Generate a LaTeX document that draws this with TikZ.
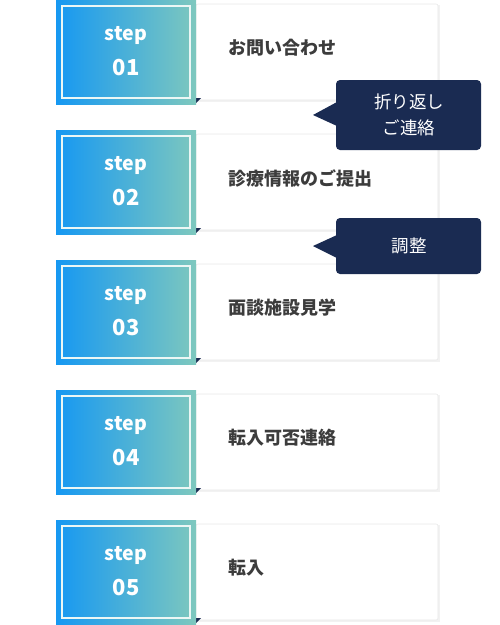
\documentclass[tikz,border=0pt]{standalone}
\usepackage{fontspec}
\setmainfont{Noto Sans CJK JP}
\usetikzlibrary{shadings}
\definecolor{gleft}{RGB}{22,152,242}
\definecolor{gright}{RGB}{126,200,190}
\definecolor{navy}{RGB}{26,43,82}
\definecolor{txt}{RGB}{60,60,60}
\tikzset{
  stepbox/.style={left color=gleft,right color=gright,draw=none},
  innerframe/.style={draw=white!85!gright,line width=1.2pt},
  card/.style={fill=white,draw=black!9,line width=0.6pt},
  cardshadow/.style={fill=black!5,draw=none},
  steplabel/.style={text=white,font=\bfseries\fontsize{19.5}{20}\selectfont},
  stepnum/.style={text=white,font=\bfseries\fontsize{22}{24}\selectfont},
  cardtext/.style={text=txt,font=\bfseries\fontsize{18}{20}\selectfont,anchor=west,inner sep=0pt},
  callout/.style={fill=navy,draw=none,rounded corners=4pt},
  callouttext/.style={text=white,font=\fontsize{17.5}{26}\selectfont,align=center},
  fold/.style={fill=navy}
}
\begin{document}
\begin{tikzpicture}[x=1pt,y=-1pt]
\useasboundingbox (0,0) rectangle (500,625);
\foreach \i/\n/\t in {0/01/お問い合わせ,1/02/診療情報のご提出,2/03/面談施設見学,3/04/転入可否連絡,4/05/転入}{
  \pgfmathsetmacro{\yy}{130*\i}
  \begin{scope}[yshift=-\yy pt]
    \fill[cardshadow] (198,5) rectangle (440,102);
    \draw[card,rounded corners=2pt] (196,4) rectangle (438,100);
    \fill[fold] (196,98) -- (201,98) -- (196,103) -- cycle;
    \shade[stepbox] (56,0) rectangle (196,104);
    \draw[innerframe] (62,6) rectangle (190,98);
    \node[steplabel] (s\n) at (126,35) {step};
    \node[stepnum] (n\n) at (126,68) {\n};
    \node[cardtext] (c\n) at (228,48) {\t};
  \end{scope}
}
\fill[callout] (336,80) rectangle (481,150);
\fill[navy] (337,102) -- (313,115) -- (337,126) -- cycle;
\node[callouttext] (call1) at (409,115) {折り返し\\ご連絡};
\fill[callout] (336,218) rectangle (481,274);
\fill[navy] (337,235) -- (313,246) -- (337,258) -- cycle;
\node[callouttext] (call2) at (409,246) {調整};
\end{tikzpicture}
\end{document}
